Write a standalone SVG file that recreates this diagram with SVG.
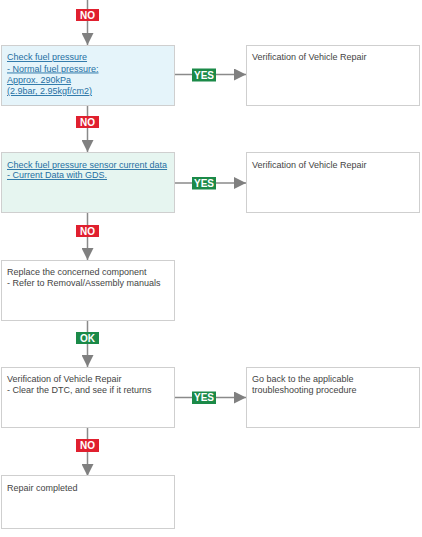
<svg xmlns="http://www.w3.org/2000/svg" width="422" height="537" viewBox="0 0 422 537">
<defs>
<style>
.box{fill:#fff;stroke:#cfcfcf;stroke-width:1}
.blue{fill:#e5f4fa}
.green{fill:#e6f5f0}
.t{font-family:"Liberation Sans",Arial,sans-serif;font-size:9px;fill:#444}
.lk{font-family:"Liberation Sans",Arial,sans-serif;font-size:9px;fill:#1f6fa3;text-decoration:underline}
.ln{stroke:#8a8a8a;stroke-width:1.5;fill:none}
.no{fill:#e0202f}
.yes{fill:#1b8a48}
.lt{font-family:"Liberation Sans",Arial,sans-serif;font-size:10px;font-weight:bold;fill:#fff;text-anchor:middle}
</style>
<marker id="ah" markerWidth="12" markerHeight="12" viewBox="0 0 12 12" refX="12" refY="6" orient="auto" markerUnits="userSpaceOnUse">
<path d="M0,0 L12,6 L0,12 Z" fill="#808080"/>
</marker>
</defs>
<g id="connectors">
<line class="ln" x1="87.5" y1="0" x2="87.5" y2="45" marker-end="url(#ah)"/>
<line class="ln" x1="175" y1="74.5" x2="246" y2="74.5" marker-end="url(#ah)"/>
<line class="ln" x1="87.5" y1="105" x2="87.5" y2="152" marker-end="url(#ah)"/>
<line class="ln" x1="175" y1="183" x2="246" y2="183" marker-end="url(#ah)"/>
<line class="ln" x1="87.5" y1="212" x2="87.5" y2="260" marker-end="url(#ah)"/>
<line class="ln" x1="87.5" y1="320" x2="87.5" y2="367" marker-end="url(#ah)"/>
<line class="ln" x1="175" y1="397.5" x2="246" y2="397.5" marker-end="url(#ah)"/>
<line class="ln" x1="87.5" y1="427" x2="87.5" y2="476" marker-end="url(#ah)"/>
<rect class="no" x="76" y="9" width="23" height="12"/><text class="lt" x="87.5" y="18.8">NO</text>
<rect class="yes" x="192" y="68.5" width="24" height="13"/><text class="lt" x="204" y="78.8">YES</text>
<rect class="no" x="76" y="116" width="23" height="12"/><text class="lt" x="87.5" y="125.8">NO</text>
<rect class="yes" x="192" y="177" width="24" height="12.5"/><text class="lt" x="204" y="186.8">YES</text>
<rect class="no" x="76" y="225" width="23" height="12"/><text class="lt" x="87.5" y="234.8">NO</text>
<rect class="yes" x="76" y="332" width="23" height="12"/><text class="lt" x="87.5" y="341.8">OK</text>
<rect class="yes" x="192" y="391.5" width="24" height="12.5"/><text class="lt" x="204" y="401.3">YES</text>
<rect class="no" x="76" y="439" width="23" height="13"/><text class="lt" x="87.5" y="449">NO</text>
</g>
<g id="n1">
<rect class="box blue" x="1.5" y="45.5" width="173" height="60"/>
<text class="lk" x="7" y="60">Check fuel pressure</text>
<text class="lk" x="7" y="71.5">- Normal fuel pressure:</text>
<text class="lk" x="7" y="83">Approx. 290kPa</text>
<text class="lk" x="7" y="94">(2.9bar, 2.95kgf/cm2)</text>
</g>
<g id="n1y">
<rect class="box" x="246.5" y="45.5" width="173" height="60"/>
<text class="t" x="252" y="60">Verification of Vehicle Repair</text>
</g>
<g id="n2">
<rect class="box green" x="1.5" y="152.5" width="173" height="60"/>
<text class="lk" x="7" y="168">Check fuel pressure sensor current data</text>
<text class="lk" x="7" y="178">- Current Data with GDS.</text>
</g>
<g id="n2y">
<rect class="box" x="246.5" y="152.5" width="173" height="60"/>
<text class="t" x="252" y="168">Verification of Vehicle Repair</text>
</g>
<g id="n3">
<rect class="box" x="1.5" y="260.5" width="173" height="60"/>
<text class="t" x="7" y="275">Replace the concerned component</text>
<text class="t" x="7" y="286">- Refer to Removal/Assembly manuals</text>
</g>
<g id="n4">
<rect class="box" x="1.5" y="367.5" width="173" height="60"/>
<text class="t" x="7" y="382">Verification of Vehicle Repair</text>
<text class="t" x="7" y="392.5">- Clear the DTC, and see if it returns</text>
</g>
<g id="n4y">
<rect class="box" x="246.5" y="367.5" width="173" height="60"/>
<text class="t" x="252" y="382">Go back to the applicable</text>
<text class="t" x="252" y="392.5">troubleshooting procedure</text>
</g>
<g id="n5">
<rect class="box" x="1.5" y="475.5" width="173" height="53"/>
<text class="t" x="7" y="490.5">Repair completed</text>
</g>
</svg>
